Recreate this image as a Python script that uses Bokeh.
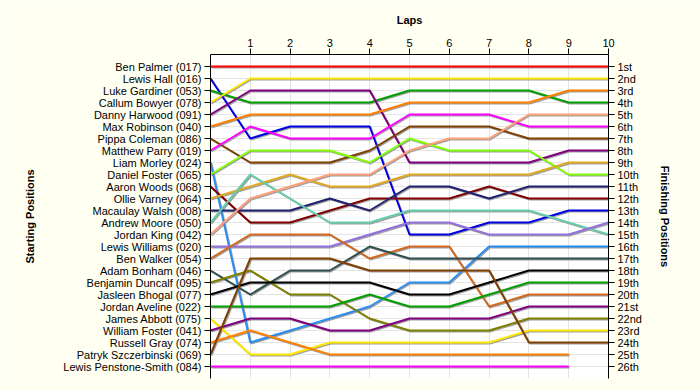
from bokeh.plotting import figure
from bokeh.models import Range1d, LinearAxis, FixedTicker
from bokeh.embed import file_html
from bokeh.resources import INLINE

drivers = ["Ben Palmer (017)", "Lewis Hall (016)", "Luke Gardiner (053)", "Callum Bowyer (078)",
           "Danny Harwood (091)", "Max Robinson (040)", "Pippa Coleman (086)", "Matthew Parry (019)",
           "Liam Morley (024)", "Daniel Foster (065)", "Aaron Woods (068)", "Ollie Varney (064)",
           "Macaulay Walsh (008)", "Andrew Moore (050)", "Jordan King (042)", "Lewis Williams (020)",
           "Ben Walker (054)", "Adam Bonham (046)", "Benjamin Duncalf (095)", "Jasleen Bhogal (077)",
           "Jordan Aveline (022)", "James Abbott (075)", "William Foster (041)", "Russell Gray (074)",
           "Patryk Szczerbinski (069)", "Lewis Penstone-Smith (084)"]

colors = ["#ff0000", "#0000e6", "#00a000", "#ffe600", "#800080", "#ff8000", "#804000", "#ff00ff",
          "#2a8cf0", "#80ff00", "#800000", "#e0aa20", "#202070", "#66cdaa", "#ffa07a", "#9370db",
          "#d2691e", "#2f4f4f", "#808000", "#000000", "#00a000", "#ffe600", "#800080", "#ff8000",
          "#804000", "#ff00ff"]

# position of each driver after each lap (lap 0 = start)
lap_positions = [
    [1, 1, 1, 1, 1, 1, 1, 1, 1, 1, 1],
    [2, 7, 6, 6, 6, 15, 15, 14, 14, 13, 13],
    [3, 4, 4, 4, 4, 3, 3, 3, 3, 4, 4],
    [4, 2, 2, 2, 2, 2, 2, 2, 2, 2, 2],
    [5, 3, 3, 3, 3, 9, 9, 9, 9, 8, 8],
    [6, 5, 5, 5, 5, 4, 4, 4, 4, 3, 3],
    [7, 9, 9, 9, 8, 6, 6, 6, 7, 7, 7],
    [8, 6, 7, 7, 7, 5, 5, 5, 6, 6, 6],
    [9, 24, 23, 22, 21, 19, 19, 16, 16, 16, 16],
    [10, 8, 8, 8, 9, 7, 8, 8, 8, 10, 10],
    [11, 14, 14, 13, 12, 12, 12, 11, 12, 12, 12],
    [12, 11, 10, 11, 11, 10, 10, 10, 10, 9, 9],
    [13, 13, 13, 12, 13, 11, 11, 12, 11, 11, 11],
    [14, 10, 12, 14, 14, 13, 13, 13, 13, 14, 15],
    [15, 12, 11, 10, 10, 8, 7, 7, 5, 5, 5],
    [16, 16, 16, 16, 15, 14, 14, 15, 15, 15, 14],
    [17, 15, 15, 15, 17, 16, 16, 21, 20, 20, 20],
    [18, 20, 18, 18, 16, 17, 17, 17, 17, 17, 17],
    [19, 18, 20, 20, 22, 23, 23, 23, 22, 22, 22],
    [20, 19, 19, 19, 19, 20, 20, 19, 18, 18, 18],
    [21, 21, 21, 21, 20, 21, 21, 20, 19, 19, 19],
    [22, 25, 25, 24, 24, 24, 24, 24, 23, 23, 23],
    [23, 22, 22, 23, 23, 22, 22, 22, 21, 21, 21],
    [24, 23, 24, 25, 25, 25, 25, 25, 25, 25],
    [25, 17, 17, 17, 18, 18, 18, 18, 24, 24, 24],
    [26, 26, 26, 26, 26, 26, 26, 26, 26, 26],
]

laps = list(range(0, 11))
lap_labels = [str(l) for l in range(1, 11)]
finish_labels = ["1st", "2nd", "3rd", "4th", "5th", "6th", "7th", "8th", "9th", "10th",
                 "11th", "12th", "13th", "14th", "15th", "16th", "17th", "18th", "19th", "20th",
                 "21st", "22nd", "23rd", "24th", "25th", "26th"]

FONT = "Liberation Sans"
BG = "#fffff2"
n = len(drivers)

p = figure(width=700, height=390, output_backend="svg", toolbar_location=None,
           x_range=Range1d(0, 10), y_range=Range1d(27, 0),
           x_axis_location="above", y_axis_location="left",
           min_border_left=210, min_border_right=92, min_border_top=54, min_border_bottom=12)
p.background_fill_color = "white"
p.border_fill_color = BG
p.outline_line_color = None

pos_ticks = list(range(1, n + 1))

p.xgrid.ticker = FixedTicker(ticks=laps)
p.ygrid.ticker = FixedTicker(ticks=pos_ticks)
p.xgrid.grid_line_color = "#e4e4e4"
p.ygrid.grid_line_color = "#e4e4e4"

def style_axis(ax):
    ax.axis_line_color = "black"
    ax.major_tick_line_color = "black"
    ax.minor_tick_line_color = None
    ax.major_tick_out = 6
    ax.major_tick_in = 0
    ax.major_label_text_font = FONT
    ax.major_label_text_font_size = "11px"
    ax.major_label_text_color = "black"
    ax.axis_label_text_font = FONT
    ax.axis_label_text_font_size = "11px"
    ax.axis_label_text_font_style = "bold"
    ax.axis_label_text_color = "black"

xa = p.xaxis[0]
style_axis(xa)
xa.ticker = FixedTicker(ticks=list(range(1, 11)))
xa.major_label_overrides = {i + 1: t for i, t in enumerate(lap_labels)}
xa.axis_label = "Laps"
xa.major_label_standoff = 2
xa.axis_label_standoff = 10

ya = p.yaxis[0]
style_axis(ya)
ya.ticker = FixedTicker(ticks=pos_ticks)
ya.major_label_overrides = {i + 1: d for i, d in enumerate(drivers)}
ya.axis_label = "Starting Positions"
ya.major_label_standoff = 3
ya.axis_label_standoff = 24

ra = LinearAxis(ticker=FixedTicker(ticks=pos_ticks))
style_axis(ra)
ra.major_label_overrides = {i + 1: f for i, f in enumerate(finish_labels)}
ra.axis_label = "Finishing Positions"
ra.major_label_standoff = 3
ra.axis_label_standoff = 14
p.add_layout(ra, "right")

dx = 1.0 / 39.8
dy = 1.0 / 12.0
for i in range(n):
    ys = lap_positions[i]
    xs = laps[:len(ys)]
    p.line([x + dx for x in xs], [y + dy for y in ys], line_color="#a0a0a0", line_width=2)
for i in range(n):
    ys = lap_positions[i]
    xs = laps[:len(ys)]
    p.line(xs, ys, line_color=colors[i], line_width=2)

html = file_html(p, INLINE)
html = html.replace("<body>", '<body style="background:%s">' % BG, 1)
open("out.html", "w").write(html)
